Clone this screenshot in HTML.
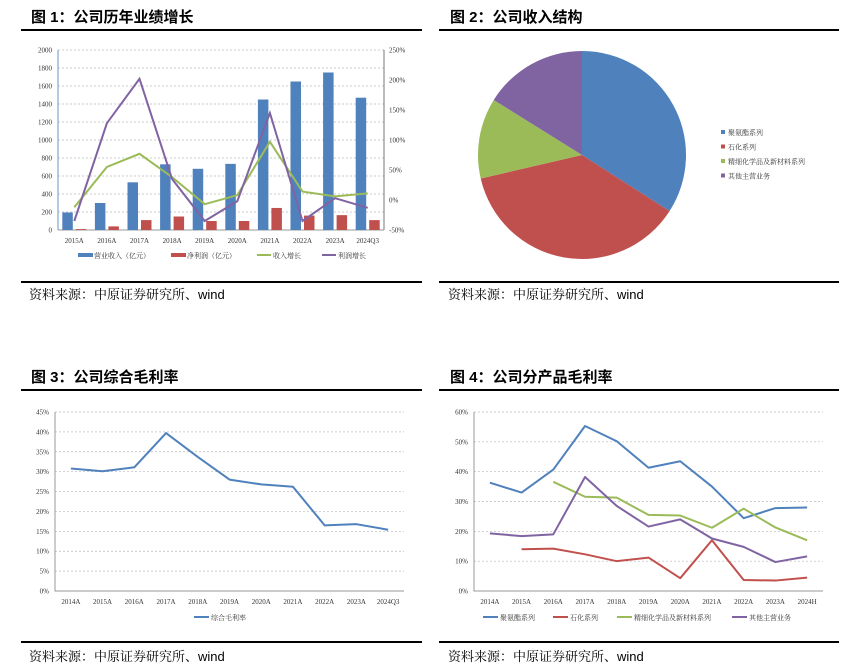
<!DOCTYPE html>
<html><head><meta charset="utf-8"><style>
body{margin:0;background:#fff}
svg{display:block}
text{font-family:"Liberation Serif","Noto Serif CJK SC",serif}
.t{font-family:"Liberation Sans","Noto Sans CJK SC",sans-serif;font-weight:bold;font-size:15px}
.s{font-family:"Liberation Sans","Noto Serif CJK SC",sans-serif;font-size:13px}
.k{font-size:7px;fill:#333}
.l{font-size:7px;fill:#333;font-family:"Noto Serif CJK SC",serif}
.g{stroke:#bbb;stroke-width:.7;stroke-dasharray:2,2}
</style></head><body>
<svg id="c" width="852" height="672" xmlns="http://www.w3.org/2000/svg">
<g>
<text class="t" x="31" y="22">图 1：公司历年业绩增长</text>
<rect x="21" y="29" width="401" height="2" fill="#000"/>
<text class="t" x="450" y="22">图 2：公司收入结构</text>
<rect x="439" y="29" width="400" height="2" fill="#000"/>
<text class="t" x="31" y="382">图 3：公司综合毛利率</text>
<rect x="21" y="389" width="401" height="2" fill="#000"/>
<text class="t" x="450" y="382">图 4：公司分产品毛利率</text>
<rect x="439" y="389" width="400" height="2" fill="#000"/>
<rect x="21" y="281" width="401" height="2" fill="#000"/>
<rect x="439" y="281" width="400" height="2" fill="#000"/>
<rect x="21" y="641" width="401" height="2" fill="#000"/>
<rect x="439" y="641" width="400" height="2" fill="#000"/>
<text class="s" x="29" y="299">资料来源：中原证券研究所、wind</text>
<text class="s" x="448" y="299">资料来源：中原证券研究所、wind</text>
<text class="s" x="29" y="661">资料来源：中原证券研究所、wind</text>
<text class="s" x="448" y="661">资料来源：中原证券研究所、wind</text>
</g>
</svg>
<script>
// Chart 1
const c1Cats=['2015A','2016A','2017A','2018A','2019A','2020A','2021A','2022A','2023A','2024Q3'];
const c1Revenue=[195,300,530,730,680,735,1450,1650,1750,1470];
const c1Profit=[10,40,110,150,100,100,245,160,165,110];
const c1RevGrowth=[-12,55,77,38,-7,8,97,14,6,11];
const c1ProfitGrowth=[-35,128,202,35,-35,-2,145,-35,3,-13];
const c1LeftTicks=[0,200,400,600,800,1000,1200,1400,1600,1800,2000];
const c1RightTicks=[-50,0,50,100,150,200,250];
// Chart 2
const c2Labels=['聚氨酯系列','石化系列','精细化学品及新材料系列','其他主营业务'];
const c2Values=[33.8,37.0,12.4,16.0];
// Chart 3
const c3Cats=['2014A','2015A','2016A','2017A','2018A','2019A','2020A','2021A','2022A','2023A','2024Q3'];
const c3Margin=[30.8,30.1,31.1,39.7,33.7,28.0,26.8,26.2,16.5,16.8,15.4];
const c3Ticks=[0,5,10,15,20,25,30,35,40,45];
// Chart 4
const c4Cats=['2014A','2015A','2016A','2017A','2018A','2019A','2020A','2021A','2022A','2023A','2024H'];
const c4Names=['聚氨酯系列','石化系列','精细化学品及新材料系列','其他主营业务'];
const c4PU=[36.3,33,40.7,55.3,50.2,41.3,43.5,35,24.4,27.8,28];
const c4Petro=[null,14,14.2,12.3,10,11.2,4.3,17,3.7,3.5,4.5];
const c4Fine=[null,null,36.6,31.6,31.3,25.5,25.3,21.2,27.6,21.3,17];
const c4Other=[19.3,18.4,19,38.2,28.5,21.6,24,17.6,14.8,9.7,11.6];
const c4Ticks=[0,10,20,30,40,50,60];

const NS='http://www.w3.org/2000/svg';
const svg=document.getElementById('c');
function mk(tag,attrs,parent,txt){const e=document.createElementNS(NS,tag);for(const k in attrs)e.setAttribute(k,attrs[k]);if(txt!==undefined)e.textContent=txt;(parent||svg).appendChild(e);return e;}
const BLUE='#4f81bd',RED='#c0504d',GREEN='#9bbb59',PURPLE='#8064a2';

// ---- Chart 1 ----
(function(){
const g=mk('g',{});


const L=58,R=384,T=50,B=230,n=c1Cats.length,w=(R-L)/n;
const y=v=>B-(v/2000)*(B-T);
const y2=v=>B-((v+50)/300)*(B-T);
const cx=i=>L+w*(i+0.5);
c1LeftTicks.forEach(t=>{
 if(t>0){const ln=mk('line',{x1:L,x2:R,y1:y(t),y2:y(t),class:'g'},g);}
 const tx=mk('text',{x:L-6,y:y(t)+2.5,class:'k','text-anchor':'end'},g,t);
 
 
});
c1RightTicks.forEach(t=>{
 const tx=mk('text',{x:R+5,y:y2(t)+2.5,class:'k'},g,t+'%');
 
 
});
const a1=mk('line',{x1:L,x2:L,y1:T,y2:B,stroke:'#9bb7d9','stroke-width':1.5},g);

const a2=mk('line',{x1:R,x2:R,y1:T,y2:B,stroke:'#777','stroke-width':1},g);

const a3=mk('line',{x1:L,x2:R,y1:B,y2:B,stroke:'#999','stroke-width':1},g);

c1Cats.forEach((c,i)=>{
 const b=mk('rect',{x:cx(i)-12,y:y(c1Revenue[i]),width:10.5,height:B-y(c1Revenue[i]),fill:BLUE},g);
 
 const r=mk('rect',{x:cx(i)+1.5,y:y(c1Profit[i]),width:10.5,height:B-y(c1Profit[i]),fill:RED},g);
 
 const tx=mk('text',{x:cx(i),y:B+13,class:'k','text-anchor':'middle'},g,c);
 
});
const p1=mk('polyline',{points:c1RevGrowth.map((v,i)=>cx(i)+','+y2(v)).join(' '),fill:'none',stroke:GREEN,'stroke-width':2},g);

const p2=mk('polyline',{points:c1ProfitGrowth.map((v,i)=>cx(i)+','+y2(v)).join(' '),fill:'none',stroke:PURPLE,'stroke-width':2},g);

const lg=[['rect',BLUE,78,'营业收入（亿元）'],['rect',RED,171,'净利润（亿元）'],['line',GREEN,257,'收入增长'],['line',PURPLE,322,'利润增长']];
lg.forEach(l=>{
 const e=l[0]=='rect'?mk('rect',{x:l[2],y:253,width:15,height:4,fill:l[1]},g):mk('line',{x1:l[2],x2:l[2]+14,y1:255,y2:255,stroke:l[1],'stroke-width':2},g);
 
 const t=mk('text',{x:l[2]+16,y:258,class:'l'},g,l[3]);
 
});
})();

// ---- Chart 2 ----
(function(){
const g=mk('g',{});


const cx=582,cy=155,r=104,cols=[BLUE,RED,GREEN,PURPLE];
const tot=c2Values.reduce((a,b)=>a+b,0);let a=0;
c2Values.forEach((v,i)=>{
 const a0=a/tot*2*Math.PI;a+=v;const a1=a/tot*2*Math.PI;
 const x0=cx+r*Math.sin(a0),y0=cy-r*Math.cos(a0),x1=cx+r*Math.sin(a1),y1=cy-r*Math.cos(a1);
 const p=mk('path',{d:`M${cx},${cy}L${x0},${y0}A${r},${r} 0 ${a1-a0>Math.PI?1:0} 1 ${x1},${y1}Z`,fill:cols[i]},g);
 
 const s=mk('rect',{x:721,y:130+i*14.5,width:4,height:4,fill:cols[i]},g);
 
 const t=mk('text',{x:728,y:135+i*14.5,class:'l'},g,c2Labels[i]);
 
});
})();

// ---- line chart helper ----
function lineChart(name,L,R,T,B,max,ticks,cats,series,cols,labels,legendX){
 const g=mk('g',{});
 
 
 const n=cats.length,w=(R-L)/n;
 const y=v=>B-(v/max)*(B-T),cx=i=>L+w*(i+0.5);
 ticks.forEach(t=>{
  if(t>0){const ln=mk('line',{x1:L,x2:R,y1:y(t),y2:y(t),class:'g'},g);}
  const tx=mk('text',{x:L-6,y:y(t)+2.5,class:'k','text-anchor':'end'},g,t+'%');
  
 });
 const ax=mk('polyline',{points:`${L},${T} ${L},${B} ${R},${B}`,fill:'none',stroke:'#999','stroke-width':1},g);
 
 cats.forEach((c,i)=>{
  const tx=mk('text',{x:cx(i),y:B+13,class:'k','text-anchor':'middle'},g,c);
  
 });
 series.forEach((s,k)=>{
  const pts=[];s.forEach((v,i)=>{if(v!==null)pts.push(cx(i)+','+y(v));});
  const p=mk('polyline',{points:pts.join(' '),fill:'none',stroke:cols[k],'stroke-width':2,'stroke-linejoin':'round'},g);
  
  const lx=legendX[k];
  const sw=mk('line',{x1:lx,x2:lx+15,y1:B+26,y2:B+26,stroke:cols[k],'stroke-width':2},g);
  
  const t=mk('text',{x:lx+17,y:B+29,class:'l'},g,labels[k]);
  
 });
}
lineChart('chart3-gross-margin',55,404,412,591,45,c3Ticks,c3Cats,[c3Margin],[BLUE],['综合毛利率'],[194]);
lineChart('chart4-product-margin',474,823,412,591,60,c4Ticks,c4Cats,[c4PU,c4Petro,c4Fine,c4Other],[BLUE,RED,GREEN,PURPLE],c4Names,[483,553,617,732]);
</script>
</body></html>
